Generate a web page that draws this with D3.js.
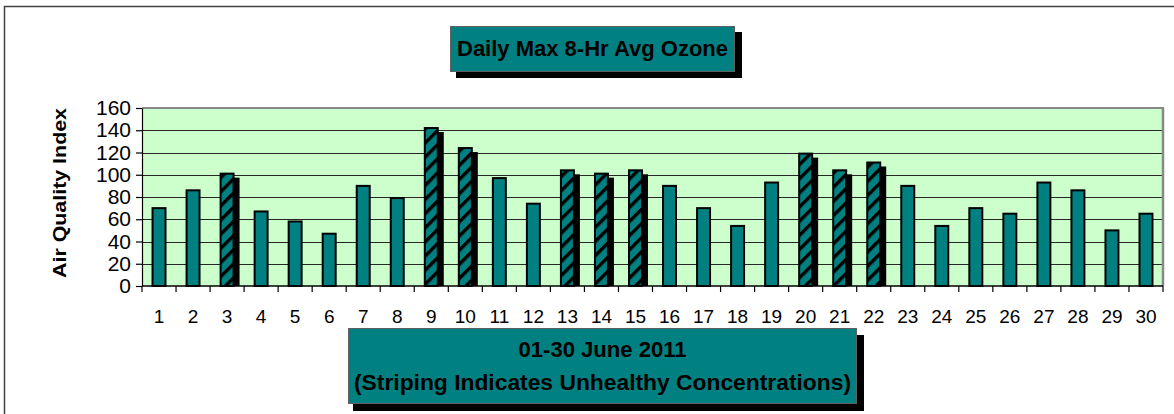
<!DOCTYPE html>
<html>
<head>
<meta charset="utf-8">
<script src="https://cdn.jsdelivr.net/npm/d3@7"></script>
<style>
  html, body { margin: 0; padding: 0; background: #fff; }
  svg { display: block; }
  text { font-family: "Liberation Sans", Arial, sans-serif; fill: #000; }
</style>
</head>
<body>
<svg id="chart" width="1174" height="414"></svg>
<script>
// ---- data ----
const days = ["1","2","3","4","5","6","7","8","9","10","11","12","13","14","15",
              "16","17","18","19","20","21","22","23","24","25","26","27","28","29","30"];
const aqi = [70, 86, 101, 67, 58, 47, 90, 79, 142, 124, 97, 74, 104, 101, 104,
             90, 70, 54, 93, 119, 104, 111, 90, 54, 70, 65, 93, 86, 50, 65];
const unhealthyDays = ["3","9","10","13","14","15","20","21","22"];
const yTicks = [0, 20, 40, 60, 80, 100, 120, 140, 160];
const titleText = "Daily Max 8-Hr Avg Ozone";
const xTitleLines = ["01-30 June 2011", "(Striping Indicates Unhealthy Concentrations)"];
const yTitleText = "Air Quality Index";

// ---- layout ----
const svg = d3.select("#chart");
const plot = { left: 142, right: 1163, top: 108, bottom: 286 };
const teal = "#008080";
const fontFam = '"Liberation Sans", Arial, sans-serif';

const rows = days.map((d, i) => ({ day: d, v: aqi[i], bad: unhealthyDays.includes(d) }));

const x = d3.scaleBand().domain(days).range([plot.left, plot.right])
  .paddingInner(0.56).paddingOuter(0.28);
const xb = d3.scaleBand().domain(days).range([plot.left, plot.right]).padding(0);
const y = d3.scaleLinear().domain([0, 160]).range([plot.bottom, plot.top]);

// pattern
const defs = svg.append("defs");
const pat = defs.append("pattern").attr("id", "stripe")
  .attr("patternUnits", "userSpaceOnUse").attr("width", 10).attr("height", 10)
  .attr("patternTransform", "rotate(45)");
pat.append("rect").attr("width", 10).attr("height", 10).attr("fill", teal);
pat.append("rect").attr("x", 0).attr("y", 0).attr("width", 3.4).attr("height", 10).attr("fill", "#000");

// outer frame
svg.append("rect").attr("x", 4.5).attr("y", 6.5).attr("width", 1300).attr("height", 600)
  .attr("fill", "#fff").attr("stroke", "#404040").attr("stroke-width", 1.5);

// plot background
svg.append("rect").attr("x", plot.left).attr("y", plot.top)
  .attr("width", plot.right - plot.left).attr("height", plot.bottom - plot.top)
  .attr("fill", "#CCFFCC");

// gridlines
svg.append("g").selectAll("line").data(yTicks.filter(t => t > 0 && t < 160)).join("line")
  .attr("x1", plot.left).attr("x2", plot.right)
  .attr("y1", d => Math.round(y(d)) + 0.5).attr("y2", d => Math.round(y(d)) + 0.5)
  .attr("stroke", "#262626").attr("stroke-width", 1.2);

// top & right border (grey)
svg.append("line").attr("x1", plot.left).attr("x2", plot.right + 1)
  .attr("y1", plot.top).attr("y2", plot.top).attr("stroke", "#888").attr("stroke-width", 2);
svg.append("line").attr("x1", plot.right).attr("x2", plot.right)
  .attr("y1", plot.top).attr("y2", plot.bottom).attr("stroke", "#888").attr("stroke-width", 2.5);

// shadows for striped bars
svg.append("g").selectAll("rect").data(rows.filter(r => r.bad)).join("rect")
  .attr("x", d => x(d.day) + 5).attr("y", d => y(d.v) + 4)
  .attr("width", x.bandwidth()).attr("height", d => plot.bottom - y(d.v) - 4)
  .attr("fill", "#000");

// bars
svg.append("g").selectAll("rect").data(rows).join("rect")
  .attr("x", d => x(d.day) + 1).attr("y", d => y(d.v))
  .attr("width", x.bandwidth() - 2).attr("height", d => plot.bottom - y(d.v))
  .attr("fill", d => d.bad ? "url(#stripe)" : teal)
  .attr("stroke", "#000").attr("stroke-width", 2);

// y axis
const yAxis = svg.append("g").attr("transform", `translate(${plot.left},0)`)
  .call(d3.axisLeft(y).tickValues(yTicks).tickSize(6).tickPadding(5).tickSizeOuter(0));
yAxis.select(".domain").attr("stroke", "#000").attr("stroke-width", 1.2);
yAxis.selectAll(".tick line").attr("stroke", "#000").attr("stroke-width", 1.2);
yAxis.selectAll("text").attr("font-family", fontFam).attr("font-size", 21).attr("fill", "#000");

// x axis: line, boundary ticks, labels
svg.append("line").attr("x1", plot.left).attr("x2", plot.right)
  .attr("y1", plot.bottom).attr("y2", plot.bottom).attr("stroke", "#000").attr("stroke-width", 1.5);
const bounds = days.map(d => xb(d)).concat([plot.right]);
svg.append("g").selectAll("line").data(bounds).join("line")
  .attr("x1", d => d).attr("x2", d => d)
  .attr("y1", plot.bottom).attr("y2", plot.bottom + 6)
  .attr("stroke", "#000").attr("stroke-width", 1.2);
const xAxis = svg.append("g").attr("transform", `translate(0,${plot.bottom})`)
  .call(d3.axisBottom(x).tickSize(0).tickPadding(0));
xAxis.select(".domain").remove();
xAxis.selectAll("text").attr("y", 37).attr("dy", 0)
  .attr("font-family", fontFam).attr("font-size", 19).attr("fill", "#000");

// y title
svg.append("text").attr("transform", "translate(66,193) rotate(-90)")
  .attr("text-anchor", "middle").attr("font-weight", "bold").attr("font-size", 19)
  .attr("textLength", 170).attr("lengthAdjust", "spacingAndGlyphs")
  .text(yTitleText);

// title box
svg.append("rect").attr("x", 456).attr("y", 32).attr("width", 286).attr("height", 46).attr("fill", "#000");
svg.append("rect").attr("x", 450.5).attr("y", 26.5).attr("width", 284).attr("height", 45)
  .attr("fill", teal).attr("stroke", "#606060").attr("stroke-width", 1);
svg.append("text").attr("x", 592.5).attr("y", 55.5).attr("text-anchor", "middle")
  .attr("font-weight", "bold").attr("font-size", 21.5)
  .attr("textLength", 271).attr("lengthAdjust", "spacingAndGlyphs")
  .text(titleText);

// bottom (x title) box
svg.append("rect").attr("x", 353).attr("y", 335).attr("width", 511).attr("height", 76).attr("fill", "#000");
svg.append("rect").attr("x", 348.5).attr("y", 328.5).attr("width", 508).attr("height", 75)
  .attr("fill", teal).attr("stroke", "#606060").attr("stroke-width", 1);
const lens = [168, 497];
const bases = [356.5, 390];
xTitleLines.forEach((t, i) => {
  svg.append("text").attr("x", 602.5).attr("y", bases[i]).attr("text-anchor", "middle")
    .attr("font-weight", "bold").attr("font-size", 22)
    .attr("textLength", lens[i]).attr("lengthAdjust", "spacingAndGlyphs")
    .text(t);
});
</script>
</body>
</html>
